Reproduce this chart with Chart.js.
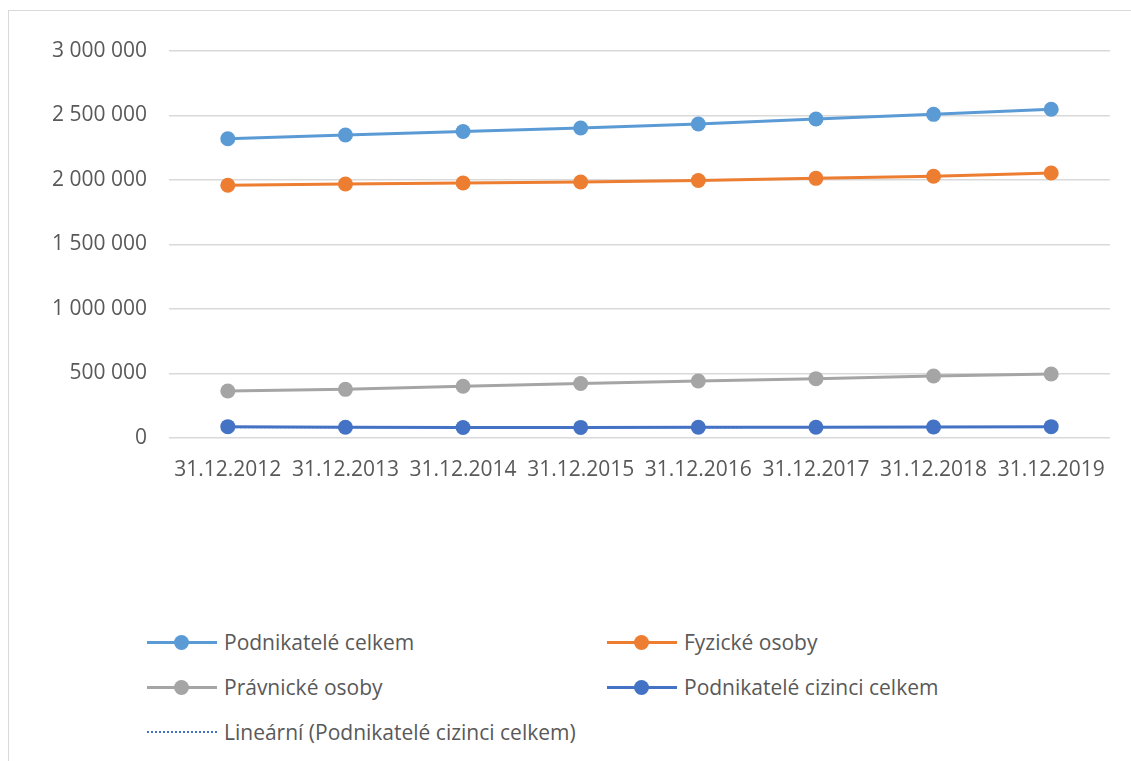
<!DOCTYPE html>
<html>
<head>
<meta charset="utf-8">
<script src="https://cdn.jsdelivr.net/npm/chart.js@4.4.1/dist/chart.umd.min.js"></script>
<style>
    html, body { margin: 0; padding: 0; background: #fff; overflow: hidden; }
    body { width: 1131px; height: 761px; position: relative; font-family: 'Open Sans', sans-serif; }
    #frame { position: absolute; left: 8px; top: 10px; width: 2000px; height: 2000px; border: 1.5px solid #d9d9d9; }
    #chartContainer { position: absolute; left: 0; top: 0; width: 1131px; height: 500px; }
    .legend-item { position: absolute; height: 20px; display: flex; align-items: center; color: #595959; font-size: 21px; white-space: nowrap; }
    .legend-item .sym { position: relative; width: 70px; height: 20px; margin-right: 7px; }
    .legend-item .sym .ln { position: absolute; left: 0; right: 0; top: 8.5px; height: 3px; }
    .legend-item .sym .dot { position: absolute; left: 27px; top: 2.5px; width: 15px; height: 15px; border-radius: 50%; }
    .legend-item .sym .dotted { position: absolute; left: 0; right: 0; top: 9px; border-top: 2.5px dotted #4472C4; }
</style>
</head>
<body>
<div id="frame"></div>
<div id="chartContainer"><canvas id="mainChart"></canvas></div>
<div id="legend"></div>
<script>
const labels = ['31.12.2012', '31.12.2013', '31.12.2014', '31.12.2015', '31.12.2016', '31.12.2017', '31.12.2018', '31.12.2019'];
const podnikateleCelkem = [2320000, 2349000, 2376000, 2403000, 2434000, 2473000, 2509000, 2548000];
const fyzickeOsoby = [1959000, 1969000, 1977000, 1984000, 1996000, 2013000, 2029000, 2054000];
const pravnickeOsoby = [364000, 377000, 401000, 422000, 442000, 460000, 481000, 496000];
const cizinciCelkem = [88000, 83000, 81000, 82000, 83000, 83000, 85000, 88000];

// linear trend of the foreign entrepreneurs series (least squares)
function linearTrend(values) {
    const n = values.length;
    let sx = 0, sy = 0, sxy = 0, sxx = 0;
    values.forEach((y, i) => { const x = i + 1; sx += x; sy += y; sxy += x * y; sxx += x * x; });
    const b = (n * sxy - sx * sy) / (n * sxx - sx * sx);
    const a = (sy - b * sx) / n;
    return values.map((y, i) => a + b * (i + 1));
}

function formatNumber(v) {
    return String(v).replace(/\B(?=(\d{3})+(?!\d))/g, ' ');
}

function lineDataset(label, data, color) {
    return {
        label: label,
        data: data,
        borderColor: color,
        backgroundColor: color,
        borderWidth: 3,
        pointRadius: 7.5,
        pointHoverRadius: 7.5,
        pointBorderWidth: 0,
        pointBackgroundColor: color,
        tension: 0
    };
}

const datasets = [
    lineDataset('Podnikatelé celkem', podnikateleCelkem, '#5B9BD5'),
    lineDataset('Fyzické osoby', fyzickeOsoby, '#ED7D31'),
    lineDataset('Právnické osoby', pravnickeOsoby, '#A5A5A5'),
    lineDataset('Podnikatelé cizinci celkem', cizinciCelkem, '#4472C4'),
    {
        label: 'Lineární (Podnikatelé cizinci celkem)',
        data: linearTrend(cizinciCelkem),
        borderColor: '#4472C4',
        borderWidth: 2,
        borderDash: [2, 2],
        pointRadius: 0,
        tension: 0,
        order: -1
    }
];

const ctx = document.getElementById('mainChart').getContext('2d');
const chart = new Chart(ctx, {
    type: 'line',
    data: { labels: labels, datasets: datasets },
    options: {
        responsive: true,
        maintainAspectRatio: false,
        animation: false,
        layout: { padding: { top: 51, right: 21, left: 0, bottom: 0 } },
        scales: {
            x: {
                offset: true,
                grid: { display: false },
                border: { display: false },
                ticks: {
                    color: '#595959',
                    font: { family: 'Open Sans', size: 21 },
                    padding: 11,
                    maxRotation: 0,
                    autoSkip: false
                },
                afterFit: scale => { scale.height = 62; }
            },
            y: {
                min: 0,
                max: 3000000,
                grid: { color: '#d9d9d9', lineWidth: 1.5, drawTicks: false },
                border: { display: false },
                ticks: {
                    stepSize: 500000,
                    color: '#595959',
                    font: { family: 'Open Sans', size: 21 },
                    padding: 22,
                    callback: v => formatNumber(v)
                },
                afterFit: scale => { scale.width = 169; }
            }
        },
        plugins: {
            legend: { display: false },
            tooltip: { enabled: false }
        }
    }
});

// Legend in two columns under the chart
const legendPos = [
    { left: 147, top: 632 },
    { left: 607, top: 632 },
    { left: 147, top: 677 },
    { left: 607, top: 677 },
    { left: 147, top: 722 }
];
const legendEl = document.getElementById('legend');
chart.data.datasets.forEach((ds, i) => {
    const item = document.createElement('div');
    item.className = 'legend-item';
    item.style.left = legendPos[i].left + 'px';
    item.style.top = legendPos[i].top + 'px';
    let sym;
    if (ds.borderDash) {
        sym = '<span class="sym"><span class="dotted"></span></span>';
    } else {
        sym = '<span class="sym"><span class="ln" style="background:' + ds.borderColor + '"></span>' +
              '<span class="dot" style="background:' + ds.borderColor + '"></span></span>';
    }
    item.innerHTML = sym + '<span>' + ds.label + '</span>';
    legendEl.appendChild(item);
});
</script>
</body>
</html>
